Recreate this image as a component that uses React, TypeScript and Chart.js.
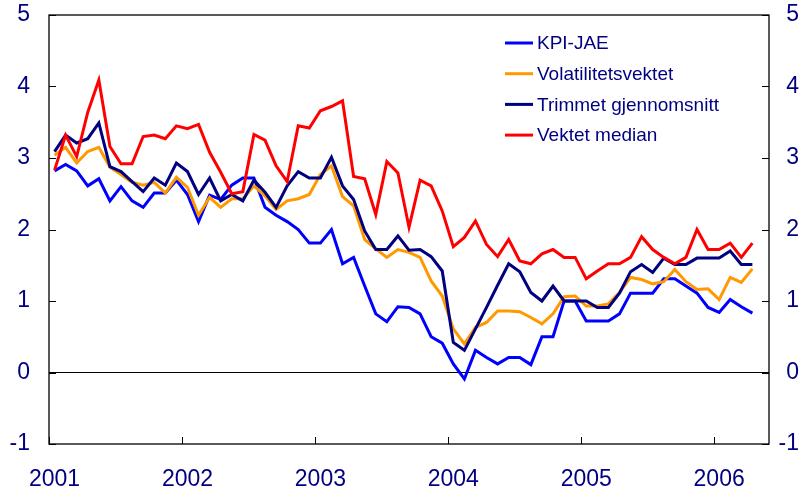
import React, { useEffect, useRef } from 'react';
import { Chart, registerables } from 'chart.js';

Chart.register(...registerables);

// ---- data ----
const years = ['2001', '2002', '2003', '2004', '2005', '2006'];
const categoryCount = 65; // Jan 2001 .. May 2006 (last category empty)
const yTickValues = [-1, 0, 1, 2, 3, 4, 5];

const seriesNames = ['KPI-JAE', 'Volatilitetsvektet', 'Trimmet gjennomsnitt', 'Vektet median'];
const seriesColors = ['#0000FF', '#FF9900', '#000080', '#FF0000'];

const kpiJae = [
  2.82, 2.91, 2.82, 2.61, 2.71, 2.40, 2.60, 2.40, 2.31, 2.51, 2.51, 2.69,
  2.49, 2.11, 2.48, 2.42, 2.62, 2.72, 2.72, 2.31, 2.20, 2.11, 2.00, 1.81,
  1.81, 2.00, 1.52, 1.61, 1.21, 0.82, 0.71, 0.92, 0.91, 0.82, 0.50, 0.41,
  0.12, -0.09, 0.31, 0.21, 0.12, 0.21, 0.21, 0.11, 0.50, 0.50, 1.00, 1.00,
  0.72, 0.72, 0.72, 0.82, 1.11, 1.11, 1.11, 1.31, 1.31, 1.21, 1.11, 0.91,
  0.84, 1.02, 0.92, 0.83,
];
const volatilitet = [
  3.04, 3.15, 2.93, 3.09, 3.15, 2.87, 2.77, 2.66, 2.62, 2.66, 2.51, 2.73,
  2.59, 2.20, 2.45, 2.31, 2.43, 2.43, 2.61, 2.47, 2.28, 2.40, 2.43, 2.49,
  2.77, 2.89, 2.46, 2.33, 1.86, 1.73, 1.61, 1.72, 1.68, 1.61, 1.28, 1.07,
  0.61, 0.40, 0.63, 0.70, 0.86, 0.86, 0.85, 0.77, 0.68, 0.82, 1.06, 1.07,
  0.93, 0.93, 0.96, 1.12, 1.33, 1.30, 1.24, 1.27, 1.44, 1.27, 1.16, 1.17,
  1.02, 1.33, 1.26, 1.45,
];
const trimmet = [
  3.09, 3.32, 3.21, 3.27, 3.49, 2.88, 2.81, 2.67, 2.53, 2.72, 2.62, 2.93,
  2.81, 2.49, 2.72, 2.40, 2.49, 2.40, 2.69, 2.52, 2.31, 2.61, 2.81, 2.72,
  2.72, 3.01, 2.61, 2.42, 1.98, 1.72, 1.72, 1.91, 1.71, 1.72, 1.62, 1.42,
  0.42, 0.31, 0.61, 0.91, 1.22, 1.52, 1.41, 1.12, 1.00, 1.21, 1.00, 1.00,
  1.00, 0.91, 0.91, 1.11, 1.41, 1.51, 1.40, 1.60, 1.51, 1.51, 1.60, 1.60,
  1.60, 1.70, 1.51, 1.51,
];
const vektetMedian = [
  2.83, 3.32, 3.02, 3.64, 4.09, 3.16, 2.92, 2.92, 3.30, 3.32, 3.27, 3.45,
  3.41, 3.47, 3.08, 2.80, 2.50, 2.53, 3.33, 3.25, 2.89, 2.67, 3.45, 3.42,
  3.66, 3.72, 3.80, 2.74, 2.71, 2.21, 2.95, 2.79, 2.03, 2.69, 2.61, 2.26,
  1.76, 1.89, 2.12, 1.79, 1.62, 1.86, 1.56, 1.52, 1.66, 1.72, 1.61, 1.61,
  1.31, 1.42, 1.52, 1.52, 1.61, 1.90, 1.72, 1.61, 1.52, 1.61, 2.00, 1.72,
  1.72, 1.81, 1.61, 1.81,
];

const seriesData = [kpiJae, volatilitet, trimmet, vektetMedian];

const FONT = "'Liberation Sans', Arial, sans-serif";
const TEXT_COLOR = '#000080';

const categories: string[] = Array.from({ length: categoryCount }, (_, i) => {
  const y = 2001 + Math.floor(i / 12);
  const m = (i % 12) + 1;
  return `${y}-${m < 10 ? '0' + m : m}`;
});

const framePlugin = {
  id: 'frame',
  afterDraw(chart: any) {
    const { ctx, chartArea } = chart;
    const { left, right, top, bottom } = chartArea;
    const y = chart.scales.y;
    const x = chart.scales.x;
    ctx.save();
    ctx.strokeStyle = '#000000';
    ctx.lineWidth = 1.3;
    ctx.strokeRect(left, top, right - left, bottom - top);
    ctx.lineWidth = 1;
    const tick = 7;
    ctx.beginPath();
    yTickValues.forEach((v) => {
      const py = Math.round(y.getPixelForValue(v)) + 0.5;
      ctx.moveTo(left, py);
      ctx.lineTo(left + tick, py);
      ctx.moveTo(right - tick, py);
      ctx.lineTo(right, py);
    });
    const step = x.getPixelForValue(1) - x.getPixelForValue(0);
    for (let i = 0; i < categoryCount; i += 12) {
      const px = Math.round(x.getPixelForValue(i) - step / 2) + 0.5;
      ctx.moveTo(px, bottom);
      ctx.lineTo(px, bottom - tick);
    }
    ctx.stroke();

    // legend
    const lx = 505;
    const ly = 43;
    const gap = 30.7;
    chart.data.datasets.forEach((ds: any, i: number) => {
      const yy = ly + i * gap;
      ctx.strokeStyle = ds.borderColor;
      ctx.lineWidth = 3;
      ctx.beginPath();
      ctx.moveTo(lx, yy);
      ctx.lineTo(lx + 28, yy);
      ctx.stroke();
      ctx.fillStyle = TEXT_COLOR;
      ctx.font = `19px ${FONT}`;
      ctx.textBaseline = 'middle';
      ctx.textAlign = 'left';
      ctx.fillText(ds.label, lx + 32, yy + 1);
    });
    ctx.restore();
  },
};

export default function App() {
  const canvasRef = useRef<HTMLCanvasElement | null>(null);

  useEffect(() => {
    if (!canvasRef.current) return;
    const tickFont = { family: FONT, size: 23, lineHeight: 1 };
    const chart = new Chart(canvasRef.current, {
      type: 'line',
      data: {
        labels: categories,
        datasets: seriesData.map((d, i) => ({
          label: seriesNames[i],
          data: d,
          borderColor: seriesColors[i],
          backgroundColor: seriesColors[i],
          borderWidth: 3,
          pointRadius: 0,
          tension: 0,
          fill: false,
          order: seriesData.length - i,
        })),
      },
      options: {
        animation: false,
        responsive: false,
        devicePixelRatio: 1,
        layout: { padding: { top: 15, left: 0, right: 8, bottom: 0 } },
        plugins: { legend: { display: false }, tooltip: { enabled: false } },
        scales: {
          x: {
            type: 'category',
            offset: true,
            grid: { display: false, drawTicks: false },
            border: { display: false },
            ticks: {
              autoSkip: false,
              maxRotation: 0,
              minRotation: 0,
              padding: 24,
              color: TEXT_COLOR,
              font: tickFont,
              callback: (_v: any, index: number) => (index % 12 === 0 ? years[index / 12] : ''),
            },
            afterFit: (s: any) => { s.height = 51; },
          },
          y: {
            position: 'left',
            min: -1,
            max: 5,
            grid: {
              drawTicks: true,
              tickLength: 17,
              tickColor: 'rgba(0,0,0,0)',
              color: (c: any) => (c.tick && c.tick.value === 0 ? '#000000' : 'rgba(0,0,0,0)'),
              lineWidth: 1,
            },
            border: { display: false },
            ticks: {
              stepSize: 1,
              padding: 2,
              color: TEXT_COLOR,
              font: tickFont,
            },
            afterFit: (s: any) => { s.width = 49; },
          },
          y2: {
            position: 'right',
            min: -1,
            max: 5,
            grid: { display: false, drawTicks: false },
            border: { display: false },
            ticks: {
              stepSize: 1,
              padding: 0,
              crossAlign: 'far',
              color: TEXT_COLOR,
              font: tickFont,
            },
            afterFit: (s: any) => { s.width = 30; },
          },
        },
      },
      plugins: [framePlugin],
    } as any);
    return () => chart.destroy();
  }, []);

  return (
    <div style={{ position: 'fixed', left: 0, top: 0, width: 807, height: 495, background: '#fff' }}>
      <canvas ref={canvasRef} width={807} height={495} style={{ width: 807, height: 495, display: 'block' }} />
    </div>
  );
}
